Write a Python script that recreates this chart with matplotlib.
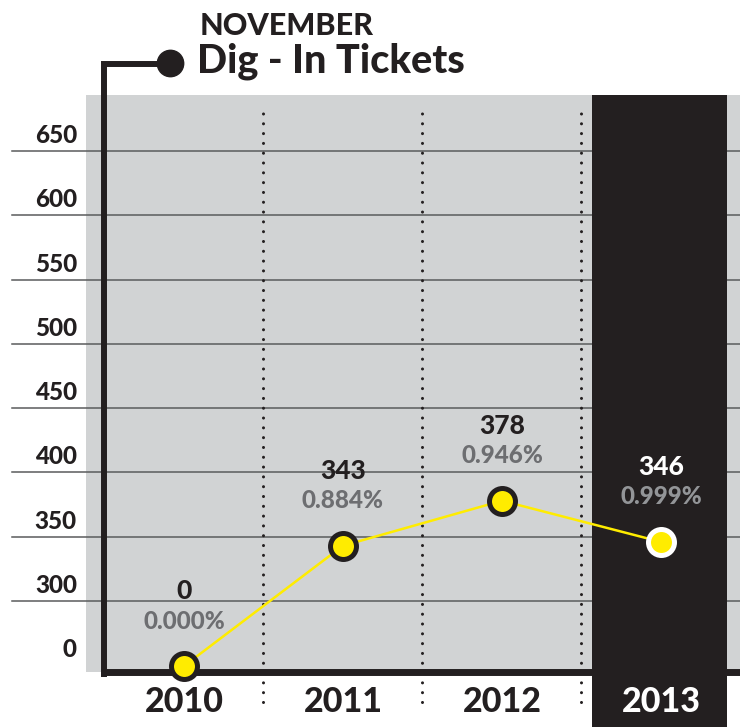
import numpy as np
import matplotlib
matplotlib.use("Agg")
import matplotlib.pyplot as plt
from matplotlib.transforms import blended_transform_factory

# November dig-in tickets per year
years = ["2010", "2011", "2012", "2013"]
tickets = [0, 343, 378, 346]
share = [0.000, 0.884, 0.946, 0.999]
y_ticks = [0, 300, 350, 400, 450, 500, 550, 600, 650]

INK = "#231F20"
PANEL = "#D1D3D4"
GRID = "#5A5B5D"
YELLOW = "#FFEC00"
MUTED = "#6D6E71"

plt.rcParams["font.family"] = ["Lato", "DejaVu Sans"]
plt.rcParams["font.weight"] = "black"


# squeeze 0-300 into a short stub under the 300 line
def squash(v):
    v = np.asarray(v, dtype=float)
    return np.where(v >= 300, v, 249.4 + v * 50.6 / 300)


def unsquash(u):
    u = np.asarray(u, dtype=float)
    return np.where(u >= 300, u, (u - 249.4) * 300 / 50.6)


W, H = 740, 727
fig = plt.figure(figsize=(W / 100, H / 100), dpi=100)
ax = fig.add_axes([86 / W, 1 - 672 / H, 654 / W, 577 / H])
ax.set_facecolor(PANEL)
ax.set_yscale("function", functions=(squash, unsquash))
ax.set_xlim(-0.616, 3.497)
ax.set_ylim(-27.3, 693.6)
ax.set_xticks([])
ax.set_yticks([])
ax.minorticks_off()

bt = blended_transform_factory(ax.transData, ax.transAxes)
yt = blended_transform_factory(ax.transAxes, ax.transData)

# horizontal grid, running out past the panel on the left
for v in y_ticks[1:]:
    ax.axhline(v, xmin=-0.113, xmax=1, color=GRID, lw=1.1, clip_on=False, zorder=1)

# highlight current year
band = ax.axvspan(2.566, 3.415, ymin=-0.095, ymax=1, color=INK, lw=0, zorder=2)
band.set_clip_on(False)

# dotted year separators
for xs in [0.5, 1.5, 2.5]:
    ax.plot([xs, xs], [-0.052, 0.984], transform=bt, color=INK, lw=2.2,
            linestyle=(0, (0.01, 3.2)), dash_capstyle="round", clip_on=False, zorder=3)

for s in ["top", "right", "left"]:
    ax.spines[s].set_visible(False)
ax.spines["bottom"].set_linewidth(5)
ax.spines["bottom"].set_color(INK)
ax.spines["bottom"].set_bounds(-0.5, 3.497)
ax.spines["bottom"].set_zorder(4)

# left axis running up into the title
ax.plot([-0.5, -0.5, -0.088], [-0.008, 1.0537, 1.0537], transform=bt, color=INK, lw=4.3,
        solid_joinstyle="miter", solid_capstyle="butt", clip_on=False, zorder=4)
ax.plot([-0.088], [1.0554], transform=bt, marker="o", ms=19, color=INK, clip_on=False)

x = np.arange(len(years))
ax.plot(x, tickets, color=YELLOW, lw=1.8, zorder=5)
edges = [INK, INK, INK, "white"]
val_colors = [INK, INK, INK, "white"]
pct_colors = [MUTED, MUTED, MUTED, "#939598"]
for xi, t, p, ec, vc, pc in zip(x, tickets, share, edges, val_colors, pct_colors):
    ax.plot(xi, t, marker="o", ms=18.7, mfc=YELLOW, mec=ec, mew=3.6, zorder=6, clip_on=False)
    ax.annotate(str(t), (xi, t), xytext=(0, 75), textcoords="offset pixels",
                ha="center", va="center", fontsize=19, color=vc, zorder=7)
    ax.annotate(f"{p:.3f}%", (xi, t), xytext=(0, 45), textcoords="offset pixels",
                ha="center", va="center", fontsize=17.5, color=pc, zorder=7)

# y labels sit on top of their grid lines
for v in y_ticks:
    ax.annotate(str(v), xy=(-0.0138, v), xycoords=yt, xytext=(0, 9 if v == 0 else 8),
                textcoords="offset pixels", ha="right", va="baseline", fontsize=17.5,
                color=INK, annotation_clip=False)

for xi, yr, c in zip(x, years, val_colors):
    ax.annotate(yr, xy=(xi, 0), xycoords=bt, xytext=(0, -40), textcoords="offset pixels",
                ha="center", va="baseline", fontsize=24.5, color=c, annotation_clip=False)

fig.text(200 / W, 1 - 35 / H, "NOVEMBER", fontsize=22, ha="left", va="baseline", color=INK)
fig.text(197 / W, 1 - 73 / H, "Dig - In Tickets", fontsize=28.5, ha="left", va="baseline", color=INK)

fig.savefig("out.png", dpi=100)
